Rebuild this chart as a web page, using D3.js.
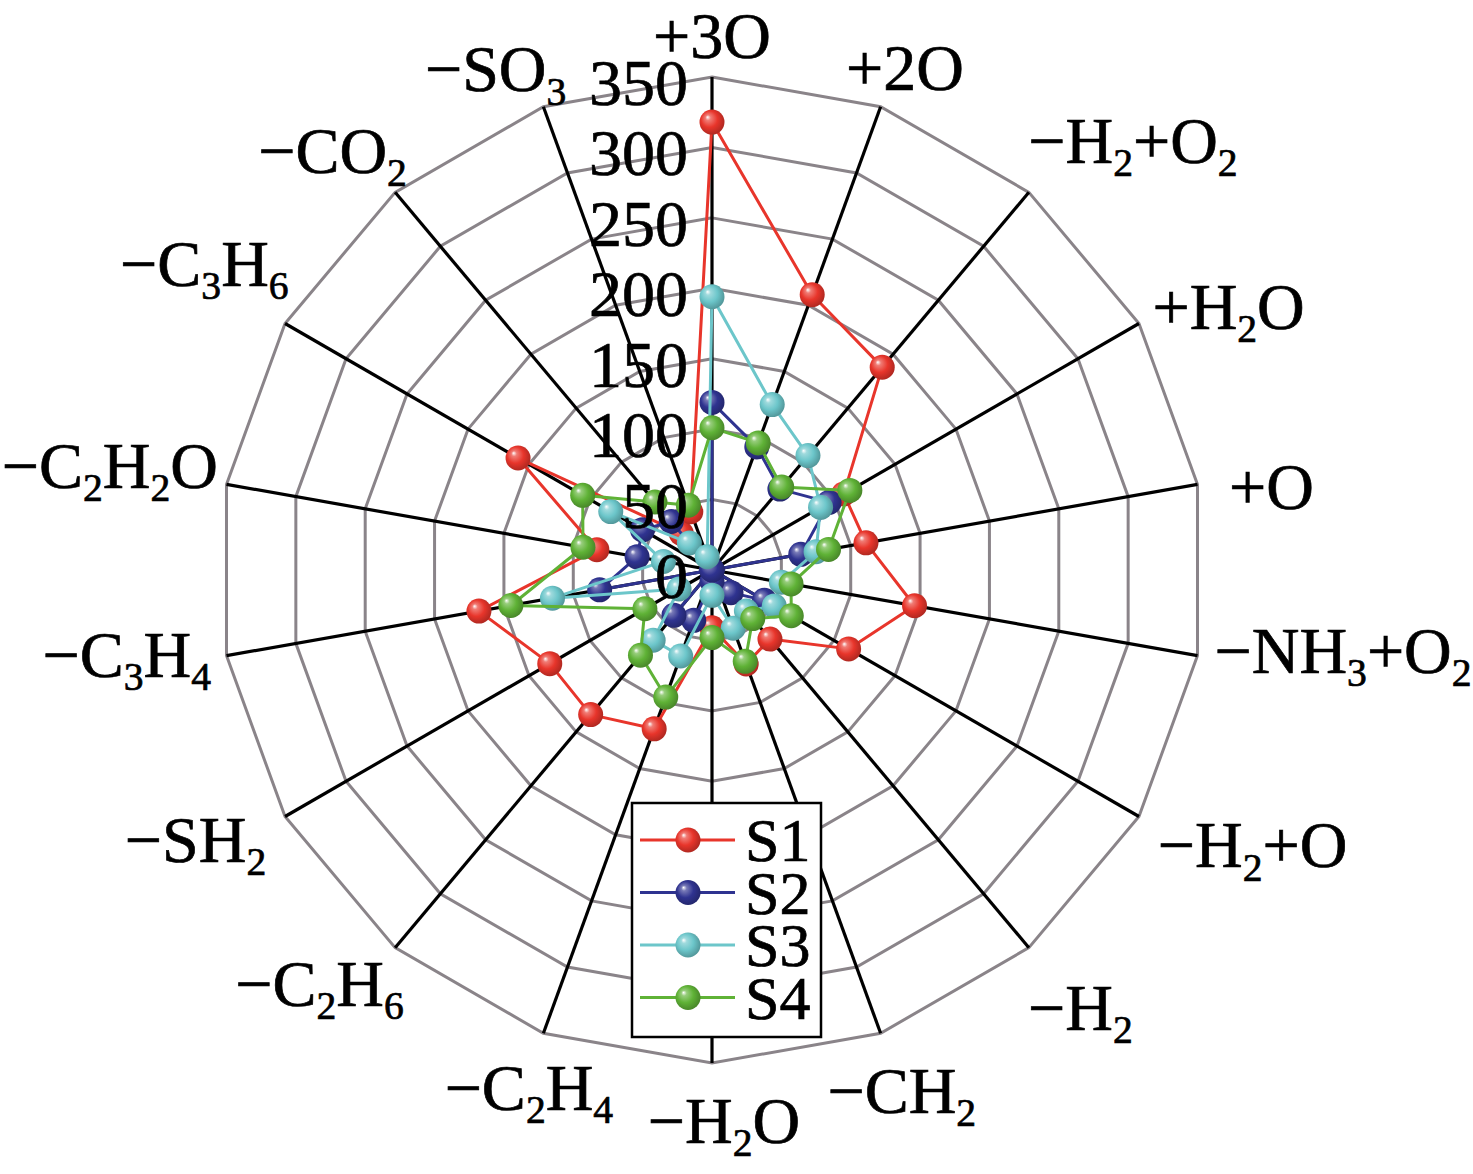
<!DOCTYPE html>
<html><head><meta charset="utf-8">
<script src="https://cdn.jsdelivr.net/npm/d3@7"></script>
<style>html,body{margin:0;padding:0;background:#fff}svg{display:block}</style>
</head><body>
<svg id="chart" width="1473" height="1174"></svg>
<script>
// ---- data ----
const categories = ["+3O","+2O","−H{2}+O{2}","+H{2}O","+O","−NH{3}+O{2}","−H{2}+O","−H{2}","−CH{2}","−H{2}O","−C{2}H{4}","−C{2}H{6}","−SH{2}","−C{3}H{4}","−C{2}H{2}O","−C{3}H{6}","−CO{2}","−SO{3}"];
const tickValues = [0,50,100,150,200,250,300,350];
const seriesNames = ["S1","S2","S3","S4"];
const s1 = [318,208,188,108,111,146,112,64,71,41,120,134,133,168,83,159,34,44];
const s2 = [119,93,75,96,64,0,43,21,0,8,38,42,0,81,54,57,45,0];
const s3 = [194,125,106,89,75,50,51,38,44,18,65,65,27,115,35,83,25,10];
const s4 = [101,96,77,113,84,57,65,45,69,48,96,79,55,145,93,106,63,49];
const seriesValues = [s1,s2,s3,s4];

// ---- style / layout ----
const colors = ["#e8352b","#2f3390","#6cc6ca","#5fb236"];
const cx = 712, cy = 570, R = 493;
const FONT = "'Liberation Serif','Times New Roman',serif";
const FS = 66;
// small per-label layout nudges (px) to follow the original label placement
const labelNudge = [[0,-3],[5,15],[40,25],[10,30],[15,13],[3,-30],[20,-25],[9,10],[0,0],[12,20],[8,-7],[-20,-30],[-14,-20],[0,-18],[6,3],[5,-10],[-11,20],[-27,20]];

const svg = d3.select("#chart");
const n = categories.length;
const r = d3.scaleLinear().domain([0,350]).range([0,R]);
const ang = d3.scaleLinear().domain([0,n]).range([0,2*Math.PI]);
const px = (i,v)=> cx + r(v)*Math.sin(ang(i));
const py = (i,v)=> cy - r(v)*Math.cos(ang(i));

// gradients
const defs = svg.append("defs");
colors.forEach((c,k)=>{
  const g = defs.append("radialGradient").attr("id","ball"+k)
    .attr("cx","45%").attr("cy","45%").attr("r","60%").attr("fx","32%").attr("fy","30%");
  const base = d3.color(c);
  g.append("stop").attr("offset","0%").attr("stop-color","#ffffff");
  g.append("stop").attr("offset","18%").attr("stop-color",d3.interpolateRgb(c,"#ffffff")(0.35));
  g.append("stop").attr("offset","55%").attr("stop-color",c);
  g.append("stop").attr("offset","100%").attr("stop-color",base.darker(0.9).formatHex());
});

// rings
const ringG = svg.append("g");
tickValues.filter(v=>v>0).forEach(v=>{
  const pts = d3.range(n).map(i=>[px(i,v),py(i,v)]);
  ringG.append("polygon").attr("points",pts.map(p=>p.join(",")).join(" "))
    .attr("fill","none").attr("stroke","#8a8489").attr("stroke-width",3);
});
// spokes
svg.append("g").selectAll("line").data(d3.range(n)).join("line")
  .attr("x1",cx).attr("y1",cy)
  .attr("x2",i=>px(i,350)).attr("y2",i=>py(i,350))
  .attr("stroke","#000").attr("stroke-width",3.2);

// series
const lineGen = d3.lineRadial().angle((d,i)=>ang(i)).radius(d=>r(d)).curve(d3.curveLinearClosed);
seriesValues.forEach((vals,k)=>{
  const g = svg.append("g");
  g.append("path").attr("d",lineGen(vals)).attr("transform",`translate(${cx},${cy})`)
    .attr("fill","none").attr("stroke",colors[k]).attr("stroke-width",3).attr("stroke-linejoin","round");
  g.selectAll("circle").data(vals).join("circle")
    .attr("cx",(d,i)=>px(i,d)).attr("cy",(d,i)=>py(i,d)).attr("r",12.5)
    .attr("fill",`url(#ball${k})`);
});

// helper: rich text with subscripts
function richText(sel, str, fs){
  const parts = str.split(/(\{[^}]*\})/).filter(s=>s.length);
  let sub = false;
  parts.forEach(p=>{
    if(p.startsWith("{")){
      sel.append("tspan").text(p.slice(1,-1)).attr("font-size",fs*0.6).attr("dy",fs*0.2);
      sub = true;
    } else {
      const t = sel.append("tspan").text(p).attr("font-size",fs);
      if(sub){ t.attr("dy",-fs*0.2); sub=false; }
    }
  });
}

// axis labels
const labG = svg.append("g").attr("font-family",FONT).attr("fill","#000")
  .attr("stroke","#000").attr("stroke-width",0.7);
categories.forEach((c,i)=>{
  const t = labG.append("text").attr("x",0).attr("y",0).attr("font-size",FS);
  richText(t,c,FS);
  const bb = t.node().getBBox();
  const a = ang(i);
  const s = Math.sin(a), co = Math.cos(a);
  const w = bb.width, h = 48;
  const d = R + 14 + Math.abs(s)*w/2 + Math.abs(co)*h/2;
  const tx = cx + d*s + labelNudge[i][0], ty = cy - d*co + labelNudge[i][1];
  t.attr("x", tx - (bb.x + w/2)).attr("y", ty + FS*0.33);
});

// tick labels
svg.append("g").attr("font-family",FONT).attr("font-size",FS).attr("text-anchor","end")
  .attr("stroke","#000").attr("stroke-width",0.7)
  .selectAll("text").data(tickValues).join("text")
  .attr("x",cx-24).attr("y",v=>cy - r(v) + 28).text(v=>v);

// legend
const lg = svg.append("g").attr("font-family",FONT);
const lx = 632, ly = 803, lw = 189, lh = 234;
lg.append("rect").attr("x",lx).attr("y",ly).attr("width",lw).attr("height",lh)
  .attr("fill","#fff").attr("stroke","#000").attr("stroke-width",2.5);
seriesNames.forEach((nm,k)=>{
  const yy = ly + 37 + k*52.5;
  lg.append("line").attr("x1",lx+8).attr("x2",lx+103).attr("y1",yy).attr("y2",yy)
    .attr("stroke",colors[k]).attr("stroke-width",3);
  lg.append("circle").attr("cx",lx+56).attr("cy",yy).attr("r",12.5).attr("fill",`url(#ball${k})`);
  lg.append("text").attr("x",lx+113).attr("y",yy+21).attr("font-size",62)
    .attr("stroke","#000").attr("stroke-width",0.7).text(nm);
});
</script>
</body></html>
